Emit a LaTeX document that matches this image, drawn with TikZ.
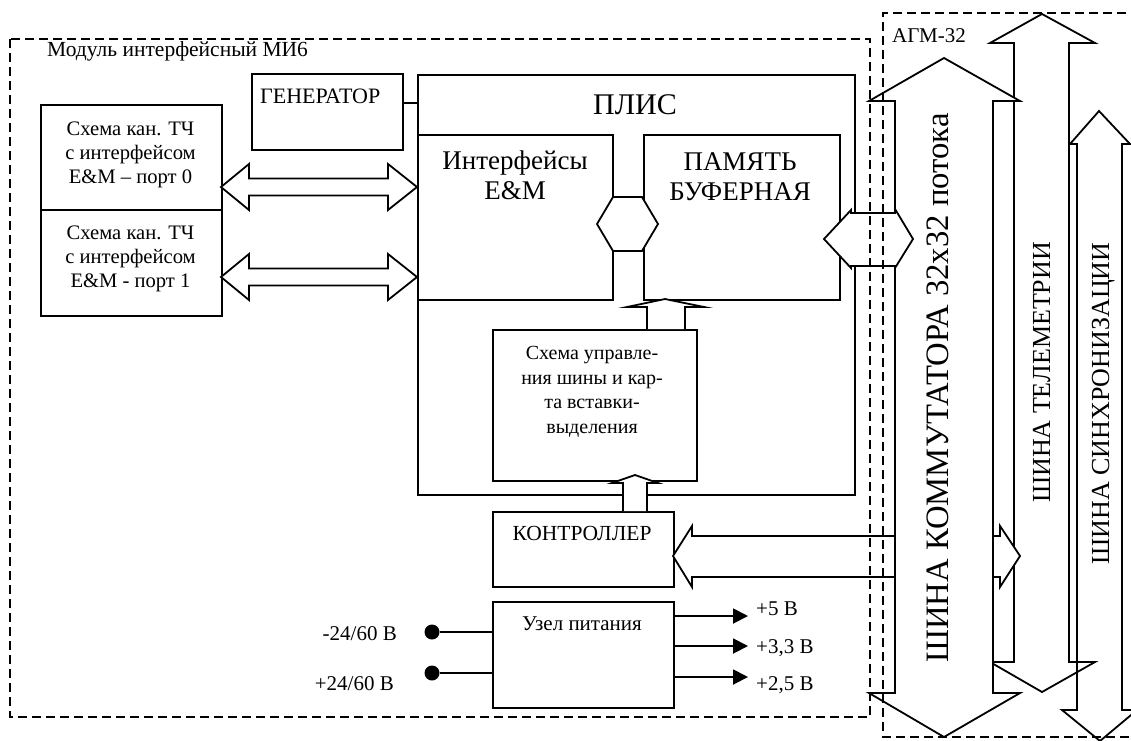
\documentclass[tikz,border=0pt]{standalone}
\usepackage{fontspec}
\setmainfont{Liberation Serif}
\usetikzlibrary{arrows.meta}
\begin{document}
\begin{tikzpicture}[x=1pt,y=-1pt,line join=miter,
  box/.style={draw,line width=1.8pt,inner sep=0pt,anchor=north west},
  fat/.style={draw,fill=white,line width=1.8pt,line join=miter},
  bus/.style={draw,line width=1.8pt,line join=miter},
  dashbox/.style={draw,line width=1.6pt,dash pattern=on 9pt off 5pt},
  t20/.style={font=\fontsize{21}{24}\selectfont,inner sep=0pt},
  t26/.style={font=\fontsize{26}{30}\selectfont,inner sep=0pt},
  dot/.style={circle,fill=black,inner sep=0pt,minimum size=15pt},
  outarr/.style={line width=1.9pt,-{Triangle[length=15pt,width=15pt]}},
  wire/.style={line width=1.8pt}]
\fill[white] (0,0) rectangle (1131,740);
\useasboundingbox (0,0) rectangle (1131,740);

% boxes
\node[box,minimum width=181pt,minimum height=105pt] (ch0) at (40,104) {};
\node[box,minimum width=181pt,minimum height=106pt] (ch1) at (40,209) {};
\node[box,minimum width=151pt,minimum height=76pt] (gen) at (251,73) {};
\node[box,minimum width=437pt,minimum height=420pt] (plis) at (417,74) {};
\node[box,minimum width=195pt,minimum height=165pt] (intf) at (417,134) {};
\node[box,minimum width=196pt,minimum height=165pt] (mem) at (643,134) {};
\node[box,minimum width=204pt,minimum height=151pt] (sch) at (492,329) {};
\node[box,minimum width=181pt,minimum height=75pt] (ktr) at (492,511) {};
\node[box,minimum width=181pt,minimum height=106pt] (pwr) at (492,601) {};

% texts
\node[font=\fontsize{20.6}{24}\selectfont,inner sep=0pt,align=center,anchor=north] (tch0) at (130.5,121.5) {Схема кан. ТЧ\\с интерфейсом\\E\&M – порт 0};
\node[font=\fontsize{20.6}{24}\selectfont,inner sep=0pt,align=center,anchor=north] (tch1) at (130.5,225.5) {Схема кан. ТЧ\\с интерфейсом\\E\&M - порт 1};
\node[font=\fontsize{22}{26}\selectfont,inner sep=0pt,anchor=base west] (tgen) at (260,103) {ГЕНЕРАТОР};
\node[font=\fontsize{30}{36}\selectfont,inner sep=0pt,anchor=base] (tplis) at (635,114) {ПЛИС};
\node[font=\fontsize{27}{30}\selectfont,inner sep=0pt,align=center,anchor=north] (tintf) at (515,151) {Интерфейсы\\E\&M};
\node[font=\fontsize{27}{30}\selectfont,inner sep=0pt,align=center,anchor=north] (tmem) at (740,152) {ПАМЯТЬ\\БУФЕРНАЯ};
\node[font=\fontsize{20}{24.5}\selectfont,inner sep=0pt,align=center,anchor=north] (tsch) at (592,346.5) {Схема управле-\\ния шины и кар-\\та вставки-\\выделения};
\node[font=\fontsize{21.5}{24}\selectfont,inner sep=0pt,anchor=base] (tktr) at (582,540) {КОНТРОЛЛЕР};
\node[t20,anchor=base] (tpwr) at (582,630) {Узел питания};

% generator link
\coordinate (g) at (402,103);
\draw[wire] (g -| gen.east) -- (g -| plis.west);

% channel double arrows
\draw[fat] (221,187) -- (249,164) -- (249,178.5) -- (388,178.5) -- (388,164) -- (417,187) -- (388,210) -- (388,195.5) -- (249,195.5) -- (249,210) -- cycle;
\draw[fat] (221,277) -- (249,254) -- (249,268.5) -- (388,268.5) -- (388,254) -- (417,277) -- (388,300) -- (388,285.5) -- (249,285.5) -- (249,300) -- cycle;

% interfaces <-> memory
\draw[fat] (597,224) -- (613,197) -- (642,197) -- (658,224) -- (642,251) -- (613,251) -- cycle;

% up arrows
\draw[fat] (647,329) -- (647,307) -- (627,307) -- (665,299) -- (704,307) -- (685,307) -- (685,329);
\draw[fat] (623,511) -- (623,483) -- (612,483) -- (635,475) -- (658,483) -- (647,483) -- (647,511);

% power
\node[dot] (dm) at (432,632) {};
\node[dot] (dp) at (432,673) {};
\draw[wire] (dm) -- (dm -| pwr.west);
\draw[wire] (dp) -- (dp -| pwr.west);
\node[t20,anchor=base east] (lm) at (397,640) {-24/60 В};
\node[t20,anchor=base east] (lp) at (394,690) {+24/60 В};
\coordinate (o1) at (748,616);
\coordinate (o2) at (748,646);
\coordinate (o3) at (748,677);
\draw[outarr] (o1 -| pwr.east) -- (o1);
\draw[outarr] (o2 -| pwr.east) -- (o2);
\draw[outarr] (o3 -| pwr.east) -- (o3);
\node[t20,anchor=base west] (v1) at (756,615) {+5 В};
\node[t20,anchor=base west] (v2) at (756,653) {+3,3 В};
\node[t20,anchor=base west] (v3) at (756,690) {+2,5 В};

% buses 3 and 2
\draw[bus] (1099,111) -- (1130,144) -- (1122,144) -- (1122,710) -- (1137,710) -- (1100,741) -- (1062,710) -- (1077,710) -- (1077,144) -- (1070,144) -- cycle;
\draw[bus] (1042,14) -- (1095,43) -- (1069,43) -- (1069,662) -- (1095,662) -- (1042,692) -- (990,662) -- (1014,662) -- (1014,43) -- (990,43) -- cycle;

% controller <-> buses
\draw[fat] (673,556) -- (692,526) -- (692,536) -- (1000,536) -- (1000,526) -- (1020,556) -- (1000,587) -- (1000,577) -- (692,577) -- (692,587) -- cycle;

% bus 1
\draw[fat] (944,58) -- (1020,101) -- (993,101) -- (993,693) -- (1020,693) -- (944,737) -- (869,693) -- (895,693) -- (895,101) -- (869,101) -- cycle;

% memory <-> bus 1
\draw[fat] (824,239) -- (851,210) -- (851,213) -- (895,213) -- (895,209) -- (913,239) -- (895,268) -- (895,266) -- (851,266) -- (851,268) -- cycle;

% bus labels
\node[font=\fontsize{32.7}{38}\selectfont,inner sep=0pt,rotate=90,anchor=base] (b1) at (948,388) {ШИНА КОММУТАТОРА 32x32 потока};
\node[t26,rotate=90,anchor=base] (b2) at (1050,372.5) {ШИНА ТЕЛЕМЕТРИИ};
\node[t26,rotate=90,anchor=base] (b3) at (1109,403.5) {ШИНА СИНХРОНИЗАЦИИ};

% dashed frames
\draw[dashbox] (10,39) rectangle (870,717);
\draw[dashbox] (1140,13) -- (883,13) -- (883,737) -- (1140,737);
\node[font=\fontsize{21.5}{24}\selectfont,inner sep=0pt,anchor=base west] (mlab) at (47,56) {Модуль интерфейсный МИ6};
\node[t20,anchor=base west] (alab) at (892,42) {АГМ-32};
\end{tikzpicture}
\end{document}
